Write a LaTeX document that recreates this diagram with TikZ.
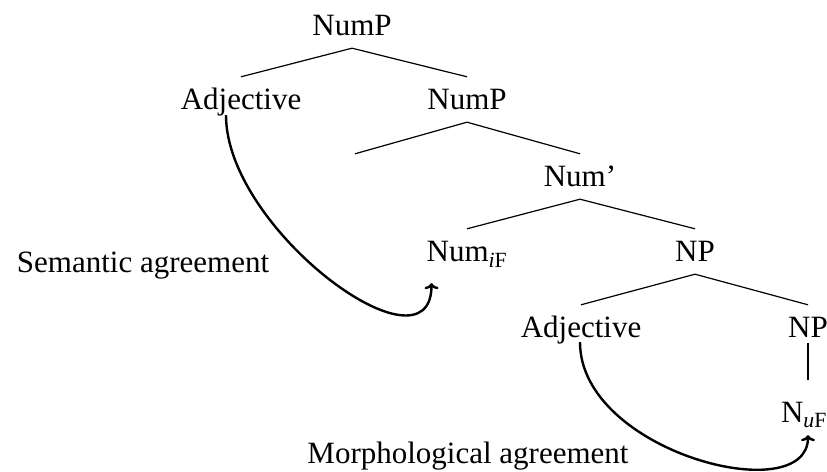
\documentclass[tikz,border=0pt]{standalone}
\usepackage{fontspec}
\setmainfont{Liberation Serif}
\usetikzlibrary{arrows.meta,calc}
\tikzset{
  cat/.style={anchor=base, font=\fontsize{31bp}{37bp}\selectfont,
              inner xsep=2bp, inner ysep=4.25bp,
              text height=28.75bp, text depth=7.75bp},
  brn/.style={line width=1.2bp},
  agr/.style={-{To[length=6bp,width=14bp]}, line width=2.4bp},
}

\begin{document}
\begin{tikzpicture}[x=1bp,y=-1bp]
    \useasboundingbox (0,0) rectangle (827,472);
    % tree
    \node[cat] (nump1) at (352,36) {NumP};
    \node[cat] (adj1) at ([shift={(-111,74)}]nump1.base) {Adjective};
    \node[cat] (nump2) at ([shift={(115,74)}]nump1.base) {NumP};
    \node[cat] (numbar) at ([shift={(113,77)}]nump2.base) {Num'};
    \node[cat] (numif) at ([shift={(-113,75)}]numbar.base) {Num\textsubscript{\textit{i}F}};
    \node[cat] (np1) at ([shift={(115,75)}]numbar.base) {NP};
    \node[cat] (adj2) at ([shift={(-114,76)}]np1.base) {Adjective};
    \node[cat] (np2) at ([shift={(113,76)}]np1.base) {NP};
    \node[cat] (nuf) at ([shift={(-4,84)}]np2.base) {N\textsubscript{\textit{u}F}};
    \coordinate (gap) at ([shift={(-225,0)}]numbar.north);
    % labels
    \node[cat] (sem) at (143,273) {Semantic agreement};
    \node[cat] (morph) at (468,463) {Morphological agreement};
    \draw[brn] (nump1.south)--(adj1.north); \draw[brn] (nump1.south)--(nump2.north);
    \draw[brn] (nump2.south)--(numbar.north); \draw[brn] (nump2.south)--(gap);
    \draw[brn] (numbar.south)--(numif.north); \draw[brn] (numbar.south)--(np1.north);
    \draw[brn] (np1.south)--(adj2.north); \draw[brn] (np1.south)--(np2.north);
    \draw[brn] ([yshift=7bp]np2.south)--([yshift=9bp]np2.south |- nuf.north);
    % agreement arcs
    \draw[agr] ($(adj1.south)+(-15,-7)$) .. controls +(0,115) and +(0,97) .. ($(numif.south west)+(7,9)$);
    \draw[agr] ($(adj2.south)+(-1,-8)$) .. controls +(0,110) and +(0,75) .. ($(nuf.south)+(4,1)$);
\end{tikzpicture}
\end{document}
